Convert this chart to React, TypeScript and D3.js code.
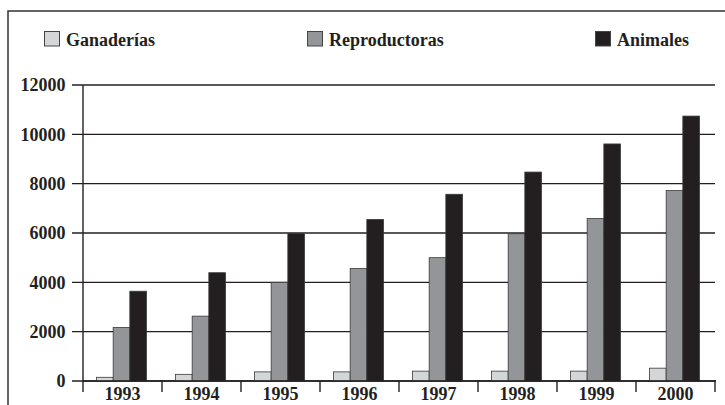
import React from 'react';
import * as d3 from 'd3';

const years = ['1993', '1994', '1995', '1996', '1997', '1998', '1999', '2000'];
const seriesNames = ['Ganaderías', 'Reproductoras', 'Animales'];
const ganaderias = [150, 270, 370, 370, 400, 400, 400, 520];
const reproductoras = [2170, 2630, 4000, 4560, 5000, 5970, 6590, 7720];
const animales = [3640, 4390, 5980, 6550, 7570, 8470, 9610, 10740];
const yTicks = [0, 2000, 4000, 6000, 8000, 10000, 12000];

const COLORS = ['#d5d6d8', '#939598', '#231f20'];
const INK = '#231f20';
const FONT = '"Liberation Serif", "Times New Roman", serif';

const W = 725;
const H = 405;
const plot = { left: 83, right: 715, top: 85, bottom: 381 };
const legendX = [44, 307, 595];

export default function App() {
  const series = [ganaderias, reproductoras, animales];

  const x = d3.scaleBand<string>().domain(years).range([plot.left, plot.right]).padding(0);
  const inner = d3.scaleBand<string>()
    .domain(seriesNames)
    .range([13.5, x.bandwidth() - 15.5])
    .padding(0);
  const y = d3.scaleLinear().domain([0, 12000]).range([plot.bottom, plot.top]);

  const tickXs = years.map(yr => x(yr) as number).concat([plot.right]);

  return (
    <svg width={W} height={H} style={{ position: 'absolute', left: 0, top: 0, background: '#fff' }}
      fontFamily={FONT} fontWeight="bold" fontSize={18}>
      {/* frame */}
      <rect x={8} y={11} width={800} height={500} fill="#fff" stroke="#333" strokeWidth={1.5} />

      {/* legend */}
      {seriesNames.map((name, i) => (
        <g key={name} transform={`translate(${legendX[i]},31)`}>
          <rect x={0.5} y={0.5} width={15} height={14.5} fill={COLORS[i]} stroke="#444" strokeWidth={1} />
          <text x={22} y={15} fill={INK}>{name}</text>
        </g>
      ))}

      {/* gridlines + y ticks */}
      {yTicks.map(t => (
        <g key={t}>
          <line x1={plot.left - 11} x2={t === 0 ? plot.right + 1 : plot.right} y1={y(t)} y2={y(t)}
            stroke={INK} strokeWidth={1.4} />
          <text x={65.5} y={y(t)} dy="0.35em" textAnchor="end" fill={INK}>{t}</text>
        </g>
      ))}

      {/* y axis */}
      <line x1={plot.left} x2={plot.left} y1={plot.top} y2={plot.bottom} stroke={INK} strokeWidth={1.4} />

      {/* bars */}
      {series.map((vals, si) => (
        <g key={seriesNames[si]}>
          {vals.map((v, i) => (
            <rect key={years[i]}
              x={(x(years[i]) as number) + (inner(seriesNames[si]) as number)}
              y={y(v)}
              width={inner.bandwidth()}
              height={plot.bottom - y(v)}
              fill={COLORS[si]}
              stroke="#3a3a3a"
              strokeWidth={0.8} />
          ))}
        </g>
      ))}

      {/* x axis line on top of bars */}
      <line x1={plot.left} x2={plot.right + 1} y1={plot.bottom} y2={plot.bottom} stroke={INK} strokeWidth={1.4} />

      {/* x ticks */}
      {tickXs.map((tx, i) => (
        <line key={i} x1={tx} x2={tx} y1={plot.bottom} y2={plot.bottom + 11} stroke={INK} strokeWidth={1.4} />
      ))}
      {years.map(yr => (
        <text key={yr} x={(x(yr) as number) + x.bandwidth() / 2} y={400} textAnchor="middle" fill={INK}>{yr}</text>
      ))}
    </svg>
  );
}
